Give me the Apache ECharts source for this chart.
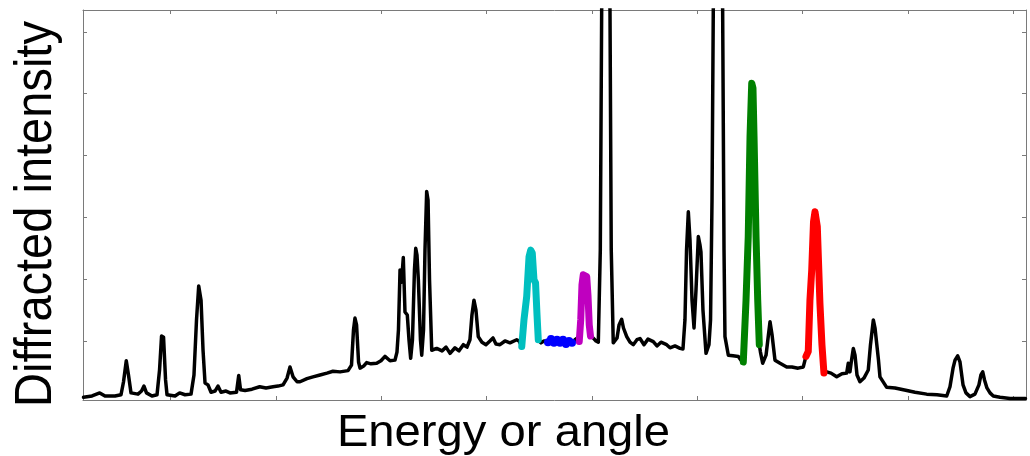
<!DOCTYPE html>
<html>
<head>
<meta charset="utf-8">
<script src="https://cdn.jsdelivr.net/npm/echarts@6/dist/echarts.min.js"></script>
<style>
html,body{margin:0;padding:0;background:#fff;}
#chart{width:1030px;height:456px;}
</style>
</head>
<body>
<div id="chart"></div>
<script>
// Diffraction pattern: [angle, intensity] (arbitrary units)
const spectrum = [
[17.2,9],[25.3,11],[32.6,16],[37.6,11],[47.1,11],[52.8,13],[55.2,34],[57.8,68],[59.9,45],[62.3,16],
[68.9,14],[72.3,19],[74.6,27],[77.0,16],[82.2,11],[87.0,13],[89.4,53],[91.3,108],[93.2,106],[95.1,37],
[96.5,13],[104.1,11],[108.5,16],[113.6,13],[119.3,14],[122.1,45],[124.5,134],[126.6,189],[128.8,166],[130.7,85],
[132.6,32],[135.4,29],[138.3,17],[142.1,19],[144.9,27],[147.8,17],[152.5,19],[156.3,16],[162.5,17],[164.6,44],
[166.3,21],[170.6,20],[177.2,22],[184.5,26],[190.5,24],[197.2,26],[201.9,27],[206.7,29],[210.5,40],[213.3,58],
[216.2,42],[220.0,34],[222.8,34],[229.4,39],[235.1,42],[241.8,45],[248.4,48],[254.1,51],[260.8,50],[268.4,52],
[271.7,61],[273.6,118],[275.0,137],[276.5,126],[278.4,66],[279.8,56],[283.6,60],[286.1,65],[290.2,63],[295.6,64],
[299.7,68],[303.5,75],[308.3,68],[313.0,69],[314.9,82],[316.3,118],[317.8,215],[319.2,195],[320.9,235],[322.5,147],
[324.7,142],[326.3,102],[327.9,72],[329.6,102],[331.5,215],[332.7,250],[333.9,239],[335.2,199],[337.2,102],[338.4,77],
[340.1,118],[341.5,247],[343.1,342],[344.4,328],[345.8,199],[347.9,85],[352.6,88],[357.7,84],[361.5,90],[365.3,80],
[370.0,89],[373.8,84],[377.9,94],[381.4,90],[384.2,102],[386.1,142],[388.0,166],[389.9,150],[392.1,107],[395.6,98],
[399.4,94],[403.2,100],[406.1,105],[408.9,95],[412.7,94],[417.5,100],[422.2,97],[428.6,102],[430.8,100],
[433.4,91],[435.5,134],[438.1,172],[440.3,236],[441.9,247],[443.4,242],[445.0,199],[446.5,194],[447.9,142],[449.1,102],
[451.7,97],[454.5,100],
[458.3,98],[461.2,103],[464.0,97],[466.9,102],[469.7,97],[472.6,102],[475.4,95],[478.3,100],[481.1,97],
[484.0,102],[486.3,105],
[488.0,99],[489.4,134],[490.6,191],[491.8,207],[493.5,210],[495.1,204],[496.3,174],[497.5,126],[498.7,108],
[501.1,105],[503.9,100],[506.1,98],[508.0,247],[509.3,636],[513.2,894],[517.2,636],[518.4,247],[520.3,97],
[523.9,105],[525.8,126],[528.3,135],[530.0,121],[533.1,107],[536.2,98],[539.3,94],[542.8,102],[545.7,104],[549.5,94],
[553.3,103],[558.3,99],[561.8,92],[565.6,98],[571.0,94],[574.2,89],[578.9,92],[583.7,88],[586.5,87],[588.4,134],
[589.9,247],[591.6,309],[593.2,263],[595.1,166],[597.0,121],[598.9,183],[601.1,269],[602.7,255],[603.6,244],[605.5,150],
[608.4,80],[611.2,94],[612.7,134],[614.1,328],[615.3,636],[619.8,894],[624.2,636],[625.5,247],[626.4,107],[629.6,77],
[634.0,76],[639.1,75],[641.6,69],
[643.8,66],[646.4,166],[648.5,269],[650.2,431],[651.8,517],[653.0,509],[654.0,431],[655.9,269],[657.5,166],[659.0,94],
[660.1,82],[662.2,64],[665.4,77],[667.7,110],[669.2,131],[671.1,110],[673.9,69],[678.7,64],[685.0,58],[690.0,58],
[695.8,56],[700.8,58],
[703.3,75],[705.5,83],[707.1,166],[708.8,215],[710.5,293],[711.9,309],[714.1,285],[716.6,161],[718.5,94],[720.4,48],
[723.0,50],[727.1,48],[732.5,42],[737.5,47],[742.0,48],[743.5,64],[745.1,50],[746.6,69],[748.3,88],[749.9,77],
[751.8,45],[754.6,34],[758.4,40],[762.5,53],[764.6,94],[767.3,134],[768.9,121],[770.5,118],[772.2,69],[773.6,42],
[780.0,25],[787.9,24],[795.8,21],[806.9,17],[818.0,14],[827.8,13],[837.0,11],[840.1,26],[843.0,56],[844.9,69],
[847.4,76],[849.6,66],[852.5,29],[855.3,16],[859.1,10],[863.8,14],[867.6,29],[869.5,45],[871.2,50],[872.9,37],
[875.2,24],[878.1,16],[881.2,11],[887.6,9],[897.1,7],[904.7,7],[911.8,7]
];
const cyanPeak = [[433.4,91],[435.5,134],[438.1,172],[440.3,236],[441.9,247],[443.4,242],[445.0,199],[446.5,194],[447.9,142],[449.1,102]];
const bluePeak = [[458.3,98],[461.2,103],[464.0,97],[466.9,102],[469.7,97],[472.6,102],[475.4,95],[478.3,100],[481.1,97]];
const magentaPeak = [[488.0,99],[489.4,134],[490.6,191],[491.8,207],[493.5,210],[495.1,204],[496.3,174],[497.5,126],[498.7,108]];
const greenPeak = [[643.8,66],[646.4,166],[648.5,269],[650.2,431],[651.8,517],[653.0,509],[654.0,431],[655.9,269],[657.5,166],[659.0,94]];
const redPeak = [[703.3,75],[705.5,83],[707.1,166],[708.8,215],[710.5,293],[711.9,309],[714.1,285],[716.6,161],[718.5,94],[720.4,48]];

const xTicks = [100,200,300,400,500,600,700,800,900];
const yTicks = [100,200,300,400,500,600];
const xRange = [16.7, 912.3];
const yRange = [4.5, 635.5];
const xTitle = 'Energy or angle';
const yTitle = 'Diffracted intensity';

const frameColor = '#7a7a7a';
function axisCommon(ticks, range) {
  return {
    type: 'value', min: range[0], max: range[1],
    axisLine: {show: true, onZero: false, lineStyle: {color: frameColor, width: 1}},
    axisTick: {show: true, inside: true, length: 4, customValues: ticks, lineStyle: {color: frameColor, width: 1}},
    axisLabel: {show: false},
    splitLine: {show: false}
  };
}
function lineSeries(name, data, color, width, extra) {
  return Object.assign({
    name: name, type: 'line', data: data, showSymbol: false, symbol: 'none',
    clip: true, animation: false, silent: true,
    lineStyle: {color: color, width: width, cap: 'round', join: 'round'}
  }, extra || {});
}

const chart = echarts.init(document.getElementById('chart'), null, {renderer: 'canvas'});
chart.setOption({
  backgroundColor: '#ffffff',
  animation: false,
  grid: {left: 83, right: 4, top: 10, bottom: 56, containLabel: false},
  xAxis: [
    Object.assign(axisCommon(xTicks, xRange), {position: 'bottom'}),
    Object.assign(axisCommon(xTicks, xRange), {position: 'top'})
  ],
  yAxis: [
    Object.assign(axisCommon(yTicks, yRange), {position: 'left'}),
    Object.assign(axisCommon(yTicks, yRange), {position: 'right'})
  ],
  series: [
    lineSeries('spectrum', spectrum, '#000000', 3.5, {z: 2}),
    lineSeries('cyan', cyanPeak, '#00bfbf', 7, {z: 3}),
    lineSeries('blue', bluePeak, '#0000ff', 6, {z: 3, showSymbol: true, symbol: 'circle', symbolSize: 8, itemStyle: {color: '#0000ff'}}),
    lineSeries('magenta', magentaPeak, '#bf00bf', 7, {z: 3}),
    lineSeries('green', greenPeak, '#008000', 7, {z: 3}),
    lineSeries('red', redPeak, '#ff0000', 7, {z: 3})
  ],
  graphic: [
    {type: 'text', x: 503.5, y: 434, scaleX: 1.085,
     style: {text: xTitle, font: '43.5px "Liberation Sans", Arial, sans-serif', fill: '#000', align: 'center', verticalAlign: 'middle'}},
    {type: 'text', x: 37, y: 214, rotation: Math.PI / 2, scaleY: 1.085,
     style: {text: yTitle, font: '47px "Liberation Sans", Arial, sans-serif', fill: '#000', align: 'center', verticalAlign: 'middle'}}
  ]
});
</script>
</body>
</html>
